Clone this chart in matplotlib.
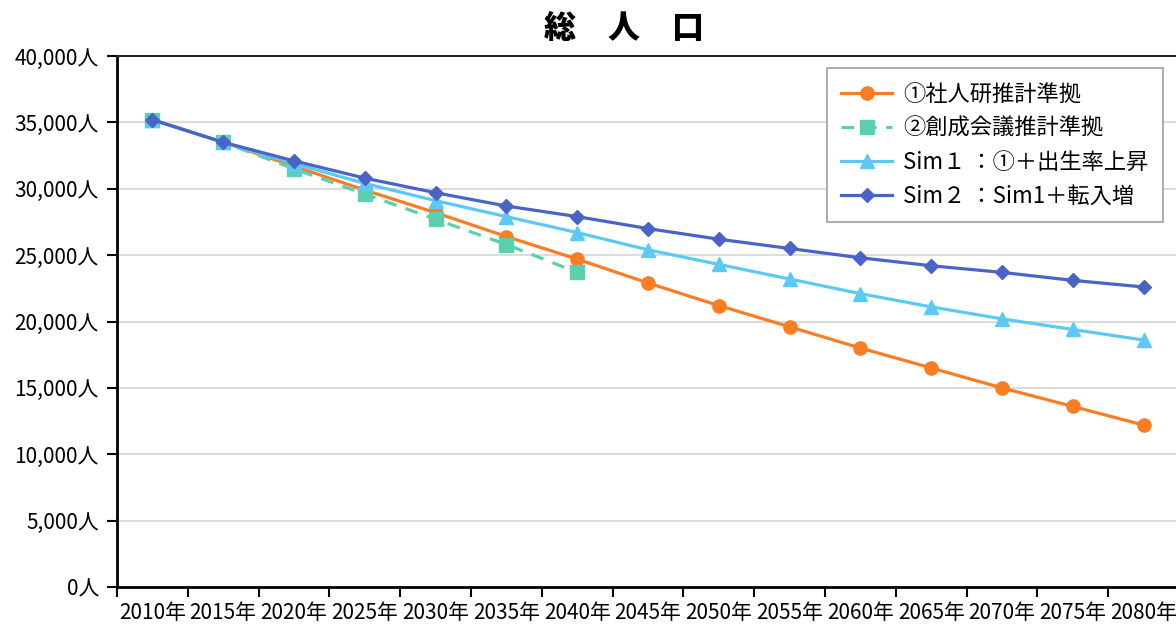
import numpy as np
import matplotlib
matplotlib.use("Agg")
import matplotlib.pyplot as plt
from matplotlib.ticker import FuncFormatter, FixedLocator

plt.rcParams['font.family'] = ['Noto Sans CJK JP', 'DejaVu Sans']

years = ["2010年", "2015年", "2020年", "2025年", "2030年", "2035年", "2040年", "2045年",
         "2050年", "2055年", "2060年", "2065年", "2070年", "2075年", "2080年"]

# ①社人研推計準拠
ipss = [35200, 33500, 31700, 29900, 28200, 26400, 24700, 22900,
        21200, 19600, 18000, 16500, 15000, 13600, 12200]
# ②創成会議推計準拠 (2040年まで)
jpc = [35200, 33500, 31500, 29600, 27700, 25800, 23700]
# Sim1 : ①＋出生率上昇
sim1 = [35200, 33500, 31900, 30400, 29100, 27900, 26700, 25400,
        24300, 23200, 22100, 21100, 20200, 19400, 18600]
# Sim2 : Sim1＋転入増
sim2 = [35200, 33500, 32100, 30800, 29700, 28700, 27900, 27000,
        26200, 25500, 24800, 24200, 23700, 23100, 22600]

labels = ["①社人研推計準拠", "②創成会議推計準拠", "Sim１ ：①＋出生率上昇", "Sim２ ：Sim1＋転入増"]

fig = plt.figure(figsize=(11.76, 6.27), dpi=100)
ax = fig.add_axes([117/1176, 1 - 587/627, 1062/1176, 531/627])

x = np.arange(len(years))
ax.plot(x, ipss, color='#FA7D23', lw=2.3, marker='o', ms=9.5, label=labels[0], zorder=3)
ax.plot(x[:len(jpc)], jpc, color='#5CCFAE', lw=2.3, ls=(0, (4, 3)), marker='s', ms=9.5,
        label=labels[1], zorder=3)
ax.plot(x, sim1, color='#5BC9F3', lw=2.3, marker='^', ms=9.5, label=labels[2], zorder=4)
ax.plot(x, sim2, color='#4A64C6', lw=2.3, marker='D', ms=7.5, label=labels[3], zorder=5)

ax.set_xlim(-0.5, len(years) - 0.5)
ax.set_ylim(0, 40000)
ax.set_yticks(np.arange(0, 40001, 5000))
ax.yaxis.set_major_formatter(FuncFormatter(lambda v, p: f"{int(v):,}人"))
ax.grid(axis='y', color='#D9D9D9', lw=1.3)
ax.set_axisbelow(True)

ax.set_xticks(x)
ax.set_xticklabels(years)
ax.xaxis.set_minor_locator(FixedLocator(np.arange(-0.5, len(years), 1)))
ax.tick_params(axis='x', which='major', length=0, pad=11, labelsize=15)
ax.tick_params(axis='x', which='minor', length=7, width=1.5, direction='out')
ax.tick_params(axis='y', length=7, width=1.5, direction='out', labelsize=15, pad=6)

for s in ['left', 'bottom']:
    ax.spines[s].set_linewidth(2)
    ax.spines[s].set_color('black')
ax.spines['top'].set_linewidth(1.5)
ax.spines['top'].set_color('#262626')
ax.spines['right'].set_visible(False)

leg = ax.legend(loc='upper right', bbox_to_anchor=(0.985, 0.977), borderaxespad=0,
                prop={'family': ['Noto Sans CJK JP'], 'size': 16},
                handlelength=2.3, handletextpad=0.5, labelspacing=0.5,
                fancybox=False, edgecolor='#A6A6A6', framealpha=1, borderpad=0.65)
leg.get_frame().set_linewidth(1.3)

fig.text(0.531, 0.955, "総　人　口", ha='center', va='center', fontsize=23,
         fontweight='black', family=['Noto Sans CJK JP'])

fig.savefig("out.png", dpi=100)
